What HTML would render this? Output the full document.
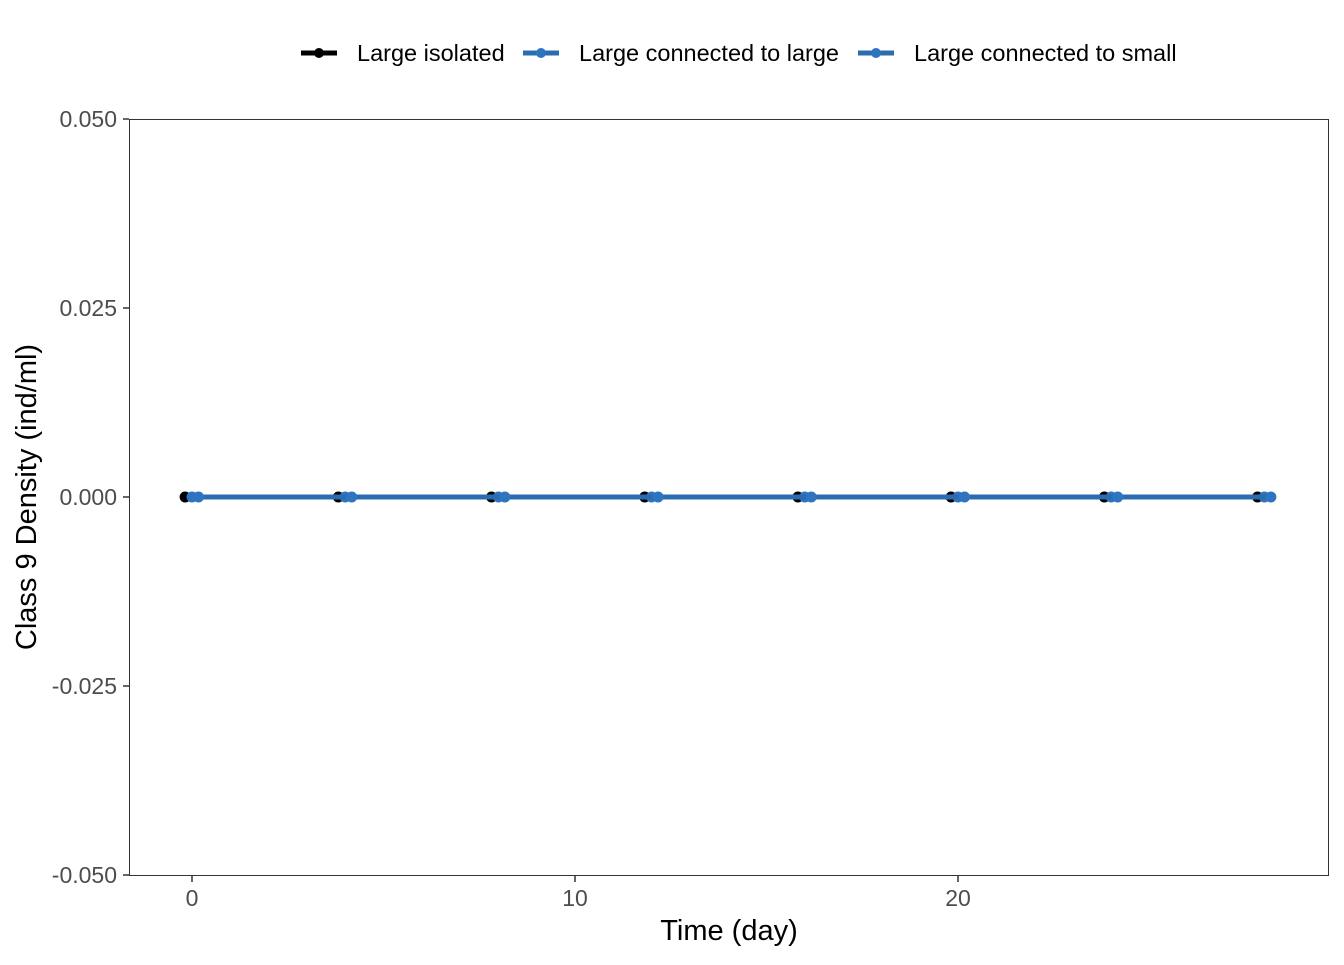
<!DOCTYPE html>
<html><head><meta charset="utf-8"><style>
body{margin:0;background:#fff;font-family:"Liberation Sans",Arial,sans-serif}
</style></head><body>
<svg width="1344" height="960" xmlns="http://www.w3.org/2000/svg">
<g id="legend"></g>
<rect x="129.5" y="119.5" width="1199" height="756" fill="none" stroke="#333" stroke-width="1"/>
<g id="axes"></g>
<g id="series"></g>
<text x="729" y="940" text-anchor="middle" font-size="29" fill="#000">Time (day)</text>
<text transform="translate(36,497) rotate(-90)" text-anchor="middle" font-size="29" fill="#000">Class 9 Density (ind/ml)</text>
</svg>
<script>
const days=[0,4,8,12,16,20,24,28];
const seriesNames=["Large isolated","Large connected to large","Large connected to small"];
const seriesColors=["#000000","#2b6cb0","#2b6cb0"];
const isolated=[0,0,0,0,0,0,0,0];
const connLarge=[0,0,0,0,0,0,0,0];
const connSmall=[0,0,0,0,0,0,0,0];
const xTicks=[0,10,20];
const yTicks=[0.05,0.025,0,-0.025,-0.05];
const yTickLabels=["0.050","0.025","0.000","-0.025","-0.050"];
const NS="http://www.w3.org/2000/svg";
const xs=d=>192+d*38.3;
const ys=v=>497-v*7560;
const axes=document.getElementById('axes');
function mk(tag,attrs,parent){const e=document.createElementNS(NS,tag);for(const k in attrs)e.setAttribute(k,attrs[k]);parent.appendChild(e);return e;}
xTicks.forEach(t=>{
  const l=mk('line',{x1:xs(t),x2:xs(t),y1:876,y2:882,stroke:'#333','stroke-width':1.5},axes);
  
  
  const tx=mk('text',{x:xs(t),y:906,'text-anchor':'middle','font-size':23,fill:'#4d4d4d'},axes);
  tx.textContent=t;
  
  
});
yTicks.forEach((t,i)=>{
  const l=mk('line',{x1:123,x2:129,y1:ys(t),y2:ys(t),stroke:'#333','stroke-width':1.5},axes);
  
  
  const tx=mk('text',{x:117,y:ys(t)+8,'text-anchor':'end','font-size':23,fill:'#4d4d4d'},axes);
  tx.textContent=yTickLabels[i];
  
  
});
const ser=document.getElementById('series');
const all=[isolated,connLarge,connSmall];
const offs=[-0.18,0,0.17];
all.forEach((vals,si)=>{
  const g=mk('g',{},ser);
  
  
  const pts=days.map((d,i)=>xs(d+offs[si])+','+ys(vals[i])).join(' ');
  const pl=mk('polyline',{points:pts,fill:'none',stroke:seriesColors[si],'stroke-width':5},g);
  
  
  days.forEach((d,i)=>{
    const c=mk('circle',{cx:xs(d+offs[si]),cy:ys(vals[i]),r:5.5,fill:si==0?'#000':'#2f74c0'},g);
    
    
  });
});
const lg=document.getElementById('legend');
const lx=[301,523,858];
seriesNames.forEach((n,i)=>{
  const g=mk('g',{},lg);
  
  
  mk('line',{x1:lx[i],x2:lx[i]+36,y1:53,y2:53,stroke:seriesColors[i],'stroke-width':5},g);
  mk('circle',{cx:lx[i]+18,cy:53,r:5,fill:i==0?'#000':'#2f74c0'},g);
  const t=mk('text',{x:lx[i]+56,y:61,'font-size':23.5,fill:'#000'},g);
  t.textContent=n;
});
</script>
</body></html>
